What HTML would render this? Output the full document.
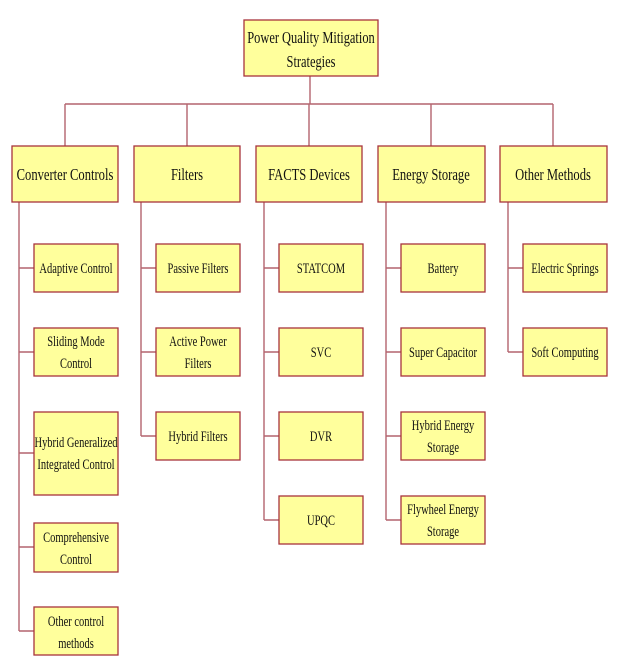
<!DOCTYPE html>
<html><head><meta charset="utf-8"><style>
html,body{margin:0;padding:0;background:#fff;width:620px;height:672px;overflow:hidden}
svg{display:block}
text{font-family:"Liberation Serif",serif;fill:#111;text-anchor:middle}
.b{fill:#ffff9c;stroke:#a8343c;stroke-width:1.3}
.l{stroke:#b4646e;stroke-width:1.4;fill:none}
</style></head><body>
<svg width="620" height="672" viewBox="0 0 620 672" xmlns="http://www.w3.org/2000/svg">
<path class="l" d="M310 76V104M65 104H553M65 104V146M187 104V146M309 104V146M431 104V146M553 104V146"/>
<path class="l" d="M19 202V631M19 268H34M19 352H34M19 453H34M19 547H34M19 631H34"/>
<path class="l" d="M141 202V436M141 268H156M141 352H156M141 436H156"/>
<path class="l" d="M264 202V520M264 268H279M264 352H279M264 436H279M264 520H279"/>
<path class="l" d="M386 202V520M386 268H401M386 352H401M386 436H401M386 520H401"/>
<path class="l" d="M508 202V352M508 268H523M508 352H523"/>
<rect class="b" x="244" y="20" width="134" height="56"/>
<text transform="translate(311,43) scale(0.73,1)" font-size="17">Power Quality Mitigation</text>
<text transform="translate(311,67) scale(0.73,1)" font-size="17">Strategies</text>
<g font-size="17">
<rect class="b" x="12" y="146" width="106" height="56"/>
<text transform="translate(65,180) scale(0.74,1)">Converter Controls</text>
<rect class="b" x="134" y="146" width="106" height="56"/>
<text transform="translate(187,180) scale(0.74,1)">Filters</text>
<rect class="b" x="256" y="146" width="106" height="56"/>
<text transform="translate(309,180) scale(0.74,1)">FACTS Devices</text>
<rect class="b" x="378" y="146" width="107" height="56"/>
<text transform="translate(431,180) scale(0.74,1)">Energy Storage</text>
<rect class="b" x="500" y="146" width="107" height="56"/>
<text transform="translate(553,180) scale(0.74,1)">Other Methods</text>
</g>
<g font-size="15">
<rect class="b" x="34" y="244" width="84" height="48"/>
<text transform="translate(76,273) scale(0.7,1)">Adaptive Control</text>
<rect class="b" x="34" y="328" width="84" height="48"/>
<text transform="translate(76,346) scale(0.7,1)">Sliding Mode</text>
<text transform="translate(76,368) scale(0.7,1)">Control</text>
<rect class="b" x="34" y="412" width="84" height="83"/>
<text transform="translate(76,447) scale(0.7,1)">Hybrid Generalized</text>
<text transform="translate(76,469) scale(0.7,1)">Integrated Control</text>
<rect class="b" x="34" y="523" width="84" height="49"/>
<text transform="translate(76,542) scale(0.7,1)">Comprehensive</text>
<text transform="translate(76,564) scale(0.7,1)">Control</text>
<rect class="b" x="34" y="607" width="84" height="48"/>
<text transform="translate(76,626) scale(0.7,1)">Other control</text>
<text transform="translate(76,648) scale(0.7,1)">methods</text>
<rect class="b" x="156" y="244" width="84" height="48"/>
<text transform="translate(198,273) scale(0.7,1)">Passive Filters</text>
<rect class="b" x="156" y="328" width="84" height="48"/>
<text transform="translate(198,346) scale(0.7,1)">Active Power</text>
<text transform="translate(198,368) scale(0.7,1)">Filters</text>
<rect class="b" x="156" y="412" width="84" height="48"/>
<text transform="translate(198,441) scale(0.7,1)">Hybrid Filters</text>
<rect class="b" x="279" y="244" width="84" height="48"/>
<text transform="translate(321,273) scale(0.7,1)">STATCOM</text>
<rect class="b" x="279" y="328" width="84" height="48"/>
<text transform="translate(321,357) scale(0.7,1)">SVC</text>
<rect class="b" x="279" y="412" width="84" height="48"/>
<text transform="translate(321,441) scale(0.7,1)">DVR</text>
<rect class="b" x="279" y="496" width="84" height="48"/>
<text transform="translate(321,525) scale(0.7,1)">UPQC</text>
<rect class="b" x="401" y="244" width="84" height="48"/>
<text transform="translate(443,273) scale(0.7,1)">Battery</text>
<rect class="b" x="401" y="328" width="84" height="48"/>
<text transform="translate(443,357) scale(0.7,1)">Super Capacitor</text>
<rect class="b" x="401" y="412" width="84" height="48"/>
<text transform="translate(443,430) scale(0.7,1)">Hybrid Energy</text>
<text transform="translate(443,452) scale(0.7,1)">Storage</text>
<rect class="b" x="401" y="496" width="84" height="48"/>
<text transform="translate(443,514) scale(0.7,1)">Flywheel Energy</text>
<text transform="translate(443,536) scale(0.7,1)">Storage</text>
<rect class="b" x="523" y="244" width="84" height="48"/>
<text transform="translate(565,273) scale(0.7,1)">Electric Springs</text>
<rect class="b" x="523" y="328" width="84" height="48"/>
<text transform="translate(565,357) scale(0.7,1)">Soft Computing</text>
</g>
</svg>
</body></html>
